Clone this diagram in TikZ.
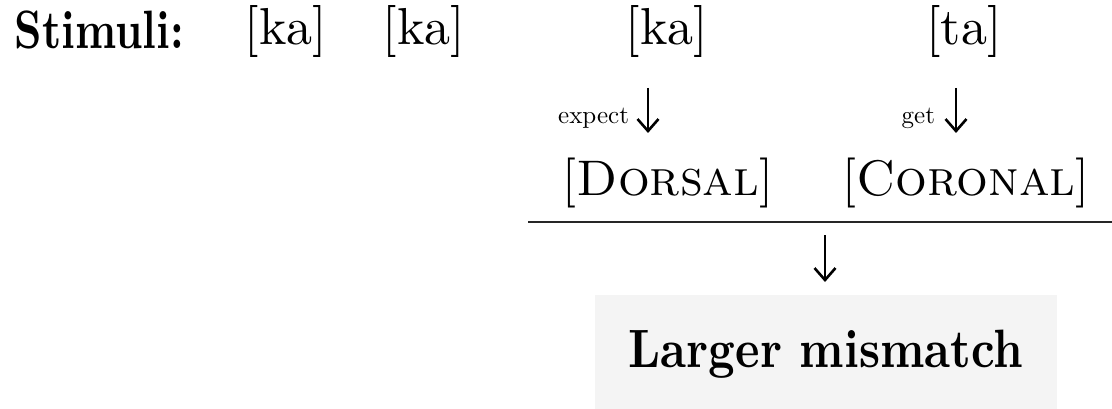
\documentclass[tikz,border=0pt]{standalone}
\usetikzlibrary{arrows.meta}
\definecolor{boxgray}{RGB}{244,244,244}
\newcommand{\bigtxt}[2]{\scalebox{#1}{\fontsize{10}{12}\selectfont #2}}
\newcommand{\bigbf}[3]{\scalebox{#1}[#2]{\fontsize{10}{12}\selectfont\bfseries #3}}
\begin{document}
\begin{tikzpicture}[x=1pt,y=1pt,
  lbl/.style={inner sep=0pt, outer sep=0pt},
  arr/.style={line width=2.6pt, -{Straight Barb[length=12pt,width=21pt,line width=2.6pt]}},
  rule/.style={line width=2pt, black!85},
  resultbox/.style={fill=boxgray, draw=none, inner sep=0pt, minimum width=462pt, minimum height=114pt,
    text height=37pt, text depth=6pt}]
\useasboundingbox (0,0) rectangle (1112,-409);

% stimuli row
\node[lbl, anchor=base west] (stim) at (15,-49) {\bigbf{4.3}{5.4}{Stimuli:}};
\node[lbl, anchor=base] (ka1) at (286,-45) {\bigtxt{5.2}{[ka]}};
\node[lbl, anchor=base] (ka2) at (424,-45) {\bigtxt{5.2}{[ka]}};
\node[lbl, anchor=base] (ka3) at (667,-45) {\bigtxt{5.2}{[ka]}};
\node[lbl, anchor=base] (ta)  at (964,-45) {\bigtxt{5.2}{[ta]}};

% expect / get arrows
\node[lbl, anchor=base east] (expect) at (629,-124) {\bigtxt{2.5}{expect}};
\node[lbl, anchor=base east] (get) at (935,-124) {\bigtxt{2.5}{get}};
\coordinate (a1top) at (648,-88);
\coordinate (a1bot) at (648,-133);
\coordinate (a2top) at (956,-88);
\coordinate (a2bot) at (956,-133);
\draw[arr] (a1top) -- (a1bot);
\draw[arr] (a2top) -- (a2bot);

% features
\node[lbl, anchor=base] (dorsal) at (668,-196) {\bigtxt{5.0}{[\textsc{Dorsal}]}};
\node[lbl, anchor=base] (coronal) at (966,-196) {\bigtxt{5.0}{[\textsc{Coronal}]}};

% rule
\coordinate (ruleL) at (528,-222);
\coordinate (ruleR) at (1112,-222);
\draw[rule] (ruleL) -- (ruleR);

% result
\coordinate (a3top) at (825,-235);
\coordinate (a3bot) at (825,-282);
\draw[arr] (a3top) -- (a3bot);
\node[resultbox] (result) at (826,-352) {\bigbf{4.64}{5.4}{Larger mismatch}};
\end{tikzpicture}
\end{document}
